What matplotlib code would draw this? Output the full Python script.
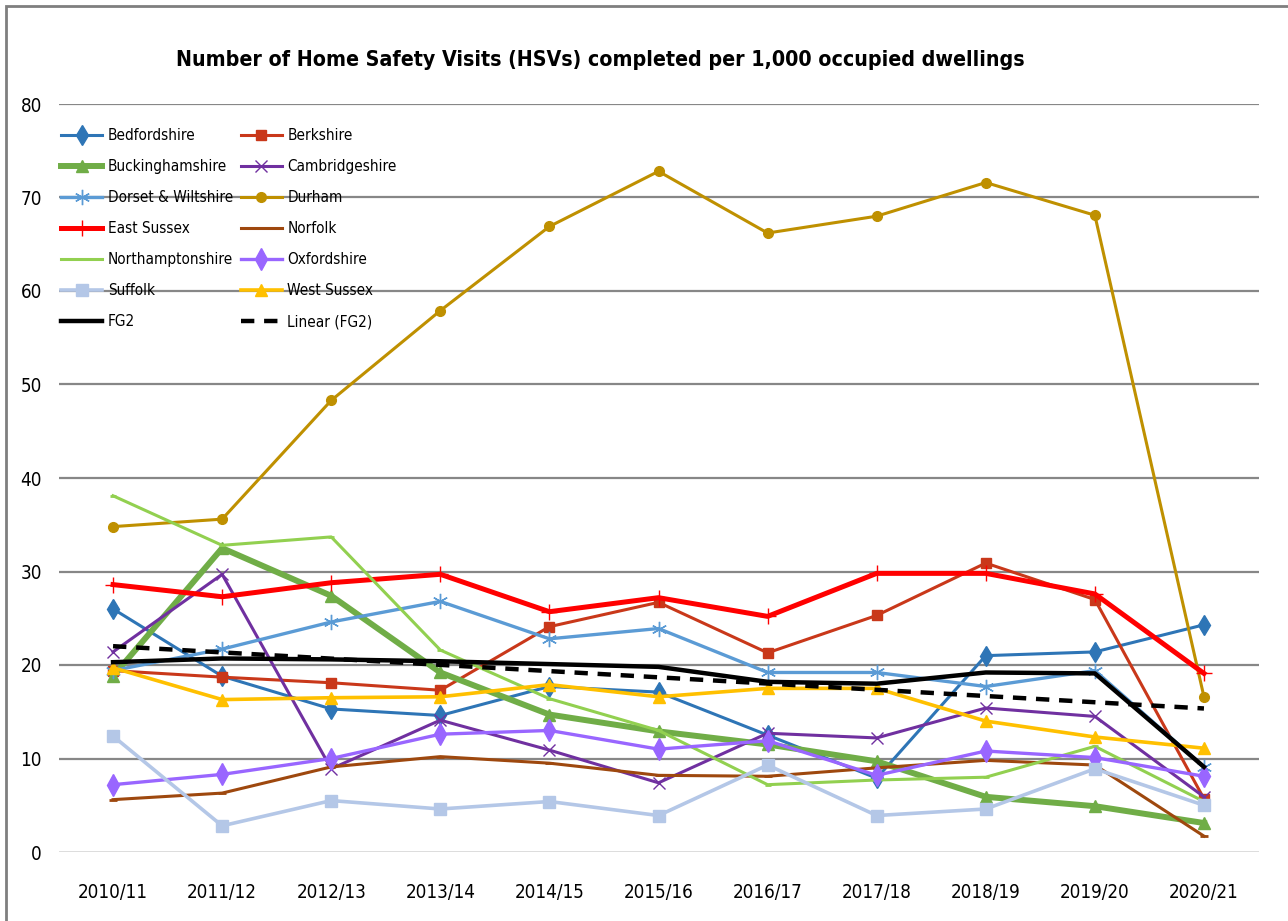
import numpy as np
import matplotlib.pyplot as plt
from matplotlib.patches import Rectangle

plt.rcParams['font.family'] = ['DejaVu Sans']
plt.rcParams['font.stretch'] = 'condensed'

years = ['2010/11', '2011/12', '2012/13', '2013/14', '2014/15', '2015/16',
         '2016/17', '2017/18', '2018/19', '2019/20', '2020/21']

bedfordshire = [26.0, 18.8, 15.3, 14.6, 17.7, 17.1, 12.5, 7.9, 21.0, 21.4, 24.3]
berkshire = [19.4, 18.7, 18.1, 17.3, 24.1, 26.7, 21.3, 25.3, 30.9, 27.0, 5.7]
buckinghamshire = [18.8, 32.5, 27.4, 19.2, 14.7, 12.9, 11.5, 9.7, 5.9, 4.9, 3.1]
cambridgeshire = [21.4, 29.7, 8.9, 14.1, 10.9, 7.4, 12.7, 12.2, 15.4, 14.5, 5.9]
dorset_wiltshire = [19.4, 21.7, 24.6, 26.8, 22.8, 23.9, 19.2, 19.2, 17.7, 19.4, 9.1]
durham = [34.8, 35.6, 48.3, 57.9, 66.9, 72.8, 66.2, 68.0, 71.6, 68.1, 16.6]
east_sussex = [28.6, 27.3, 28.8, 29.7, 25.7, 27.2, 25.2, 29.8, 29.8, 27.6, 19.1]
norfolk = [5.6, 6.3, 9.1, 10.2, 9.5, 8.2, 8.1, 9.0, 9.8, 9.3, 1.7]
northamptonshire = [38.1, 32.8, 33.7, 21.6, 16.4, 13.0, 7.2, 7.7, 8.0, 11.3, 5.4]
oxfordshire = [7.2, 8.3, 10.0, 12.6, 13.0, 11.0, 11.9, 8.2, 10.8, 10.1, 8.1]
suffolk = [12.4, 2.8, 5.5, 4.6, 5.4, 3.9, 9.3, 3.9, 4.6, 8.9, 5.0]
west_sussex = [19.7, 16.3, 16.5, 16.6, 17.9, 16.6, 17.5, 17.5, 14.0, 12.3, 11.1]
fg2 = [20.3, 20.7, 20.6, 20.4, 20.1, 19.8, 18.2, 18.0, 19.2, 19.1, 9.1]

fig = plt.figure(figsize=(12.88, 9.21), dpi=100)
ax = fig.add_axes([58.5 / 1288, 1 - 852 / 921, 1200 / 1288, 748 / 921])

x = np.arange(len(years))

# gridlines
for v in range(10, 90, 10):
    ax.axhline(v, color='#878787', lw=1.6, zorder=0)
ax.axhline(0, color='#D9D9D9', lw=2, zorder=0)

series = [
    ('Bedfordshire', bedfordshire, '#2E75B6', 2.2, 'd', 10, 1),
    ('Berkshire', berkshire, '#C9381A', 2.2, 's', 7, 1),
    ('Buckinghamshire', buckinghamshire, '#70AD47', 4.3, '^', 8, 1),
    ('Cambridgeshire', cambridgeshire, '#7030A0', 2.2, 'x', 9, 1),
    ('Dorset & Wiltshire', dorset_wiltshire, '#5B9BD5', 2.4, (6, 2, 0), 11, 1),
    ('Durham', durham, '#BF9000', 2.2, 'o', 7, 1),
    ('East Sussex', east_sussex, '#FF0000', 3.6, '+', 12, 1),
    ('Norfolk', norfolk, '#9E480E', 2.2, '_', 6, 2),
    ('Northamptonshire', northamptonshire, '#92D050', 2.2, '_', 5, 2),
    ('Oxfordshire', oxfordshire, '#9966FF', 2.4, 'd', 11, 1),
    ('Suffolk', suffolk, '#B4C7E7', 2.6, 's', 8, 1),
    ('West Sussex', west_sussex, '#FFC000', 2.6, '^', 9, 1),
]

for name, vals, col, lw, mk, ms, mew in series:
    ax.plot(x, vals, color=col, lw=lw, marker=mk, ms=ms, mew=mew,
            mec=col, mfc=col, label=name)

ax.plot(x, fg2, color='black', lw=3.2, label='FG2')

# linear trend of FG2
coef = np.polyfit(x, fg2, 1)
ax.plot(x, np.polyval(coef, x), color='black', lw=3.2, ls=(0, (3, 2.2)),
        label='Linear (FG2)')

ax.set_xlim(-0.5, 10.5)
ax.set_ylim(0, 80)
ax.set_yticks(range(0, 90, 10))
ax.set_xticks(x)
ax.set_xticklabels(years)
ax.tick_params(length=0, labelsize=13.5, colors='black')
ax.tick_params(axis='y', pad=12)
ax.tick_params(axis='x', pad=22)
for s in ax.spines.values():
    s.set_visible(False)

handles, labels = ax.get_legend_handles_labels()
# two-column order as in the reference (row by row)
order = list(range(0, 14, 2)) + list(range(1, 14, 2))
leg = ax.legend([handles[i] for i in order], [labels[i] for i in order],
                ncol=2, loc='upper left', bbox_to_anchor=(55 / 1288, 1 - 122 / 921),
                bbox_transform=fig.transFigure, frameon=False, fontsize=11,
                handlelength=2.7, handletextpad=0.35, columnspacing=0.5,
                labelspacing=1.05, borderaxespad=0)

fig.text(600 / 1288, 1 - 60 / 921,
         'Number of Home Safety Visits (HSVs) completed per 1,000 occupied dwellings',
         ha='center', va='center', fontsize=15.3, fontweight='bold')

# chart border
fig.patches.append(Rectangle((6 / 1288, -0.01), 1.1, 1 - 6 / 921 + 0.01,
                             transform=fig.transFigure, fill=False,
                             edgecolor='#7F7F7F', lw=2))

plt.savefig('out.png', dpi=100)
